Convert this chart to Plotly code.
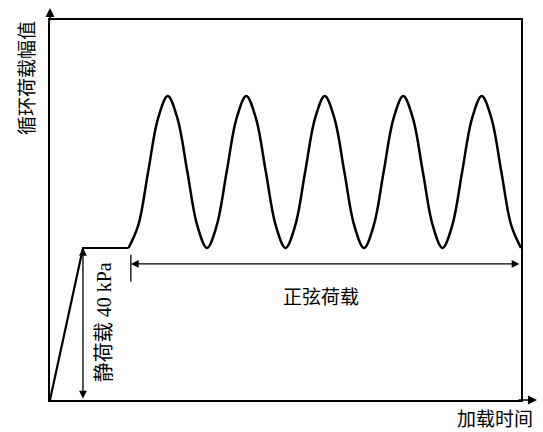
import plotly.graph_objects as go

# ---- data (schematic loading history) ----
# time in units of one load cycle, load in % of vertical scale (static = 40 kPa)
ramp_time = [0.0, 0.42, 1.0]          # ramp up to static load, then hold
ramp_load = [0.0, 40.0, 40.0]
# one sine cycle read at 1/8-cycle steps (trough 40, peak 80), 5 cycles
cycle_time = [1.0 + i / 8 for i in range(41)]
one_cycle = [40, 46, 60, 74, 80, 74, 60, 46]
cycle_load = one_cycle * 5 + [40]

x_title = "加载时间"
y_title = "循环荷载幅值"
static_label = "静荷载 40 kPa"
sine_label = "正弦荷载"

FONT = "Liberation Serif, Noto Sans CJK SC, serif"
CJK = "Noto Sans CJK SC, sans-serif"

fig = go.Figure()
fig.add_trace(go.Scatter(x=ramp_time, y=ramp_load, mode="lines",
                         line=dict(color="black", width=2.2), hoverinfo="skip"))
fig.add_trace(go.Scatter(x=cycle_time, y=cycle_load, mode="lines",
                         line=dict(color="black", width=2.5, shape="spline", smoothing=1.0),
                         hoverinfo="skip"))

ann = []
# axis arrows
ann.append(dict(x=0, y=(400 - 8) / 380, xref="paper", yref="paper", ax=0, ay=14,
                showarrow=True, arrowhead=2, arrowsize=1.2, arrowwidth=1.5, arrowcolor="black", text=""))
ann.append(dict(x=(537 - 50) / 471, y=0, xref="paper", yref="paper", ax=-20, ay=0,
                showarrow=True, arrowhead=2, arrowsize=1.2, arrowwidth=1.5, arrowcolor="black", text=""))
# static load dimension arrow
ann.append(dict(x=ramp_time[1], y=ramp_load[1], xref="x", yref="y", axref="x", ayref="y",
                ax=ramp_time[1], ay=0, showarrow=True, arrowhead=2, startarrowhead=2,
                arrowside="end+start", arrowsize=1.2, startarrowsize=1.2,
                arrowwidth=1.3, arrowcolor="black", text=""))
# sine load dimension arrow
ann.append(dict(x=cycle_time[0] + 0.03, y=35.8, xref="x", yref="y", axref="x", ayref="y",
                ax=cycle_time[-1], ay=35.8, showarrow=True, arrowhead=2, startarrowhead=2,
                arrowside="end+start", arrowsize=1.2, startarrowsize=1.2,
                arrowwidth=1.3, arrowcolor="black", text=""))
# texts
ann.append(dict(x=0.69, y=20.5, xref="x", yref="y", text=static_label, textangle=-90,
                showarrow=False, font=dict(family=FONT, size=20, color="black"),
                xanchor="center", yanchor="middle"))
ann.append(dict(x=3.45, y=27.5, xref="x", yref="y", text=sine_label,
                showarrow=False, font=dict(family=CJK, size=19, color="black"),
                xanchor="center", yanchor="middle"))
ann.append(dict(x=(25 - 50) / 471, y=(400 - 78) / 380, xref="paper", yref="paper", text=y_title,
                textangle=-90, showarrow=False, font=dict(family=CJK, size=19, color="black"),
                xanchor="center", yanchor="middle"))
ann.append(dict(x=(495 - 50) / 471, y=(400 - 417) / 380, xref="paper", yref="paper", text=x_title,
                showarrow=False, font=dict(family=CJK, size=19, color="black"),
                xanchor="center", yanchor="middle"))

shapes = [dict(type="line", xref="x", yref="y", x0=cycle_time[0] + 0.03, x1=cycle_time[0] + 0.03,
               y0=38.2, y1=31.2, line=dict(color="black", width=1.3))]

fig.update_layout(
    width=543, height=432,
    margin=dict(l=50, r=22, t=20, b=32),
    paper_bgcolor="white", plot_bgcolor="white",
    showlegend=False,
    annotations=ann, shapes=shapes,
    xaxis=dict(range=[0, 6], showgrid=False, zeroline=False, showticklabels=False, ticks="",
               showline=True, mirror=True, linecolor="black", linewidth=1.5),
    yaxis=dict(range=[0, 100], showgrid=False, zeroline=False, showticklabels=False, ticks="",
               showline=True, mirror=True, linecolor="black", linewidth=1.5),
)
fig.write_html("out.html", config={"displayModeBar": False},
               post_script="document.body.style.margin='0px';")
